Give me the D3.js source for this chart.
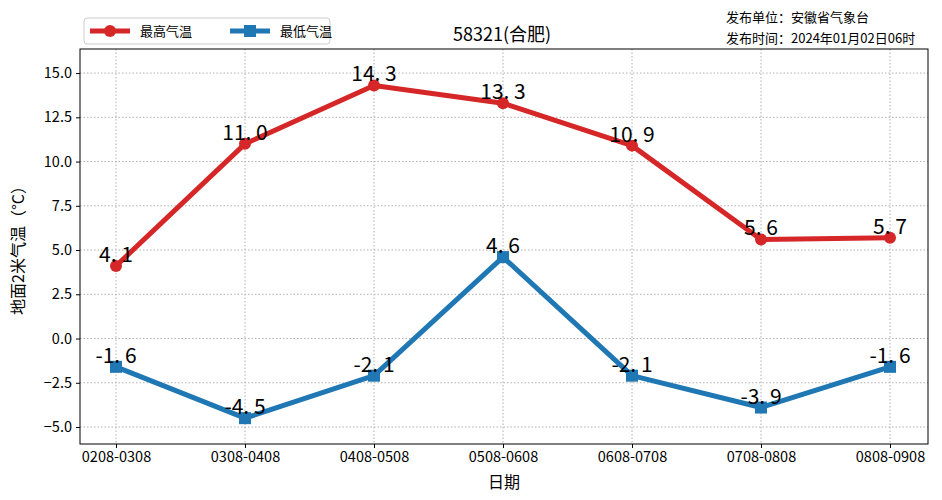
<!DOCTYPE html>
<html><head><meta charset="utf-8">
<script src="https://cdn.jsdelivr.net/npm/d3@7"></script>
<style>body{margin:0;background:#fff}svg text{font-family:"Noto Sans CJK SC","DejaVu Sans",sans-serif}</style>
</head><body><div id="chart"></div>
<script>
const categories = ['0208-0308','0308-0408','0408-0508','0508-0608','0608-0708','0708-0808','0808-0908'];
const maxTemp = [4.1, 11.0, 14.3, 13.3, 10.9, 5.6, 5.7];
const minTemp = [-1.6, -4.5, -2.1, 4.6, -2.1, -3.9, -1.6];
const yTicks = [-5, -2.5, 0, 2.5, 5, 7.5, 10, 12.5, 15];

const W = 942, H = 500;
const margin = { top: 49, right: 14, bottom: 56, left: 80 };
const width = W - margin.left - margin.right;
const height = H - margin.top - margin.bottom;

const svg = d3.select('#chart').append('svg').attr('width', W).attr('height', H);
const g = svg.append('g').attr('transform', `translate(${margin.left},${margin.top})`);

const x = d3.scalePoint().domain(categories).range([36, width - 38]);
const y = d3.scaleLinear().domain([-5.96, 16.36]).range([height, 0]);

// grid
g.append('g').selectAll('line').data(categories).enter().append('line')
    .attr('x1', d => x(d)).attr('x2', d => x(d)).attr('y1', 0).attr('y2', height)
    .attr('stroke', '#b0b0b0').attr('stroke-dasharray', '1.5,2');
g.append('g').selectAll('line').data(yTicks).enter().append('line')
    .attr('x1', 0).attr('x2', width).attr('y1', d => y(d)).attr('y2', d => y(d))
    .attr('stroke', '#b0b0b0').attr('stroke-dasharray', '1.5,2');

// axes
const xa = g.append('g').attr('transform', `translate(0,${height})`)
    .call(d3.axisBottom(x).tickSizeOuter(0).tickSize(4).tickPadding(4));
const ya = g.append('g').call(d3.axisLeft(y).tickValues(yTicks).tickFormat(d3.format('.1f')).tickSize(4).tickPadding(4));
[xa, ya].forEach(a => { a.select('.domain').remove(); a.selectAll('text').style('font-size', '14.5px').attr('fill', '#000'); });
g.append('rect').attr('width', width).attr('height', height).attr('fill', 'none').attr('stroke', '#000').attr('stroke-width', 1);

const line = d3.line().x((d, i) => x(categories[i])).y(d => y(d));

function series(data, color, square) {
    g.append('path').datum(data).attr('d', line).attr('fill', 'none')
        .attr('stroke', color).attr('stroke-width', 5).attr('stroke-linejoin', 'round');
    if (square) {
        g.selectAll(null).data(data).enter().append('rect')
            .attr('x', (d, i) => x(categories[i]) - 6).attr('y', d => y(d) - 6)
            .attr('width', 12).attr('height', 12).attr('fill', color);
    } else {
        g.selectAll(null).data(data).enter().append('circle')
            .attr('cx', (d, i) => x(categories[i])).attr('cy', d => y(d)).attr('r', 6).attr('fill', color);
    }
    g.selectAll(null).data(data).enter().append('text')
        .attr('x', (d, i) => x(categories[i])).attr('y', d => y(d) - 4)
        .attr('text-anchor', 'middle').style('font-size', '21px').attr('fill', '#000')
        .text(d => d.toFixed(1).replace('.', '. '));
}
series(maxTemp, '#d62728', false);
series(minTemp, '#1f77b4', true);

// labels
svg.append('text').attr('x', margin.left + width / 2).attr('y', 488).attr('text-anchor', 'middle')
    .style('font-size', '16px').text('日期');
svg.append('text').attr('transform', `translate(24,${margin.top + height / 2}) rotate(-90)`)
    .attr('text-anchor', 'middle').style('font-size', '16px').text('地面2米气温（°C）');
svg.append('text').attr('x', 502).attr('y', 41).attr('text-anchor', 'middle')
    .style('font-size', '18px').text('58321(合肥)');
svg.append('text').attr('x', 726).attr('y', 22).style('font-size', '13px').text('发布单位：安徽省气象台');
svg.append('text').attr('x', 726).attr('y', 43).style('font-size', '13px').text('发布时间：2024年01月02日06时');

// legend
const lg = svg.append('g').attr('transform', 'translate(84,18)');
lg.append('rect').attr('width', 246).attr('height', 26).attr('rx', 3).attr('fill', '#fff').attr('stroke', '#ccc');
[['最高气温', '#d62728', false], ['最低气温', '#1f77b4', true]].forEach(([t, c, sq], i) => {
    const ox = 6 + i * 140;
    lg.append('line').attr('x1', ox).attr('x2', ox + 40).attr('y1', 13).attr('y2', 13).attr('stroke', c).attr('stroke-width', 5);
    if (sq) lg.append('rect').attr('x', ox + 14).attr('y', 7).attr('width', 12).attr('height', 12).attr('fill', c);
    else lg.append('circle').attr('cx', ox + 20).attr('cy', 13).attr('r', 6).attr('fill', c);
    lg.append('text').attr('x', ox + 50).attr('y', 18).style('font-size', '13px').text(t);
});
</script></body></html>
